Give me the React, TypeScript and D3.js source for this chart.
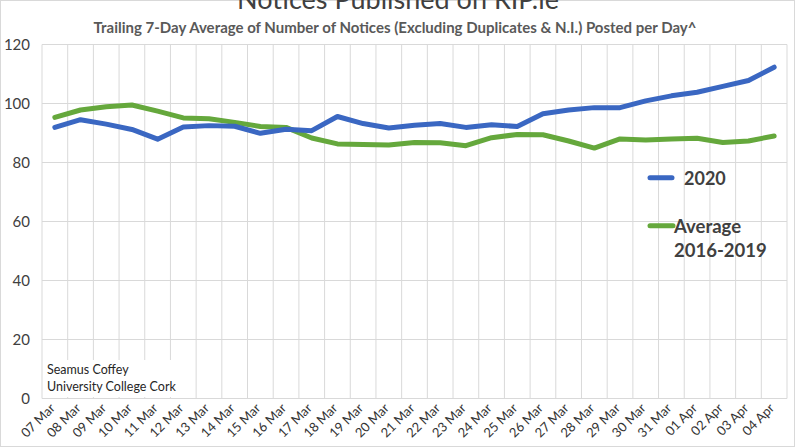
import React from "react";
import * as d3 from "d3";

const dates = ["07 Mar","08 Mar","09 Mar","10 Mar","11 Mar","12 Mar","13 Mar","14 Mar","15 Mar","16 Mar","17 Mar","18 Mar","19 Mar","20 Mar","21 Mar","22 Mar","23 Mar","24 Mar","25 Mar","26 Mar","27 Mar","28 Mar","29 Mar","30 Mar","31 Mar","01 Apr","02 Apr","03 Apr","04 Apr"];
const series2020 = [91.9, 94.5, 93.0, 91.2, 87.9, 92.0, 92.5, 92.3, 89.9, 91.3, 90.8, 95.6, 93.2, 91.7, 92.6, 93.2, 91.9, 92.8, 92.2, 96.5, 97.8, 98.6, 98.6, 100.9, 102.6, 103.8, 105.8, 107.8, 112.3];
const seriesAvg = [95.3, 97.8, 98.9, 99.5, 97.4, 95.1, 94.8, 93.6, 92.2, 91.9, 88.3, 86.3, 86.1, 85.9, 86.8, 86.7, 85.7, 88.4, 89.5, 89.4, 87.3, 84.9, 88.0, 87.6, 88.0, 88.2, 86.8, 87.3, 89.0];
const yTicks = [0, 20, 40, 60, 80, 100, 120];

const W = 795, H = 447;
const FONT = "Lato, 'Open Sans', sans-serif";
const BLUE = "#3a67c2";
const GREEN = "#65a83c";

export default function App() {
  const x = d3.scaleBand<string>().domain(dates).range([42, 787]).padding(0);
  const y = d3.scaleLinear().domain([0, 120]).range([398.5, 44.5]);
  const cx = (d: string) => (x(d) as number) + x.bandwidth() / 2;
  const line = d3.line<number>().x((_, i) => cx(dates[i])).y((v) => y(v));
  const bounds = dates.map((d) => x(d) as number).concat([787]);

  return (
    <svg width={W} height={H} style={{ position: "absolute", left: 0, top: 0, background: "#fff" }}>
      <rect x={0.5} y={0.5} width={W - 1} height={H - 1} fill="#fff" stroke="#d9d9d9" />
      {yTicks.map((t) => (
        <line key={"h" + t} x1={42} x2={787} y1={y(t)} y2={y(t)} stroke="#d9d9d9" strokeWidth={1} />
      ))}
      {bounds.map((b, i) => (
        <line key={"v" + i} x1={b} x2={b} y1={y(120)} y2={y(0)} stroke="#d9d9d9" strokeWidth={1} />
      ))}
      {yTicks.map((t) => (
        <text key={"yl" + t} x={30} y={y(t)} dy="0.35em" textAnchor="end" fontFamily={FONT} fontSize={15} fill="#404040">{t}</text>
      ))}
      {dates.map((d) => (
        <text key={"xl" + d} transform={`translate(${cx(d) + 1},409) rotate(-45)`} textAnchor="end" fontFamily={FONT} fontSize={13} fill="#333333">{d}</text>
      ))}
      <path d={line(seriesAvg) || ""} fill="none" stroke={GREEN} strokeWidth={5} strokeLinejoin="round" strokeLinecap="round" />
      <path d={line(series2020) || ""} fill="none" stroke={BLUE} strokeWidth={5} strokeLinejoin="round" strokeLinecap="round" />
      <text x={398} y={9} textAnchor="middle" fontFamily={FONT} fontSize={27} fill="#404040">Notices Published on RIP.ie</text>
      <text x={395} y={33} textAnchor="middle" fontFamily={FONT} fontSize={15} fontWeight="bold" fill="#595959">Trailing 7-Day Average of Number of Notices (Excluding Duplicates &amp; N.I.) Posted per Day^</text>
      <line x1={650} x2={672} y1={177.7} y2={177.7} stroke={BLUE} strokeWidth={5} strokeLinecap="round" />
      <text x={684} y={185} fontFamily={FONT} fontSize={18} fontWeight="bold" fill="#404040">2020</text>
      <line x1={650} x2={673} y1={225.7} y2={225.7} stroke={GREEN} strokeWidth={5} strokeLinecap="round" />
      <text x={674} y={232.5} fontFamily={FONT} fontSize={18.5} fontWeight="bold" fill="#404040">Average</text>
      <text x={674} y={256.5} fontFamily={FONT} fontSize={18.5} fontWeight="bold" fill="#404040">2016-2019</text>
      <rect x={43} y={360} width={140} height={37} fill="#fff" />
      <text x={47} y={374} fontFamily={FONT} fontSize={12.5} fill="#262626">Seamus Coffey</text>
      <text x={47} y={391} fontFamily={FONT} fontSize={12.5} fill="#262626">University College Cork</text>
    </svg>
  );
}
